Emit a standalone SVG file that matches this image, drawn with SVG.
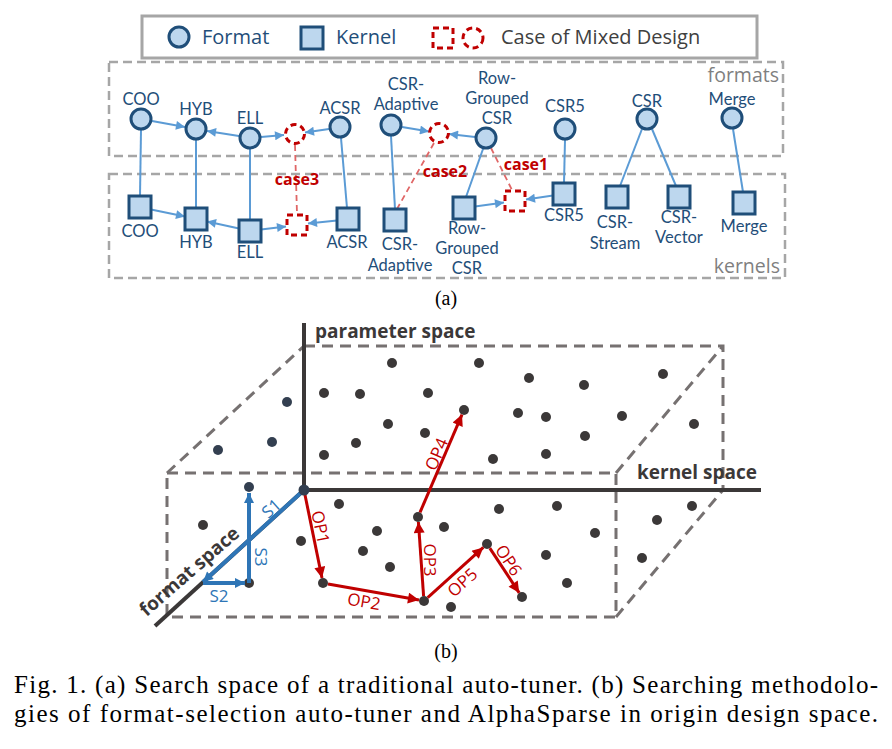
<svg xmlns="http://www.w3.org/2000/svg" width="892" height="749" viewBox="0 0 892 749">
<defs>
<marker id="ab" viewBox="0 0 10 10" refX="10" refY="5" markerWidth="11" markerHeight="9" markerUnits="userSpaceOnUse" orient="auto"><path d="M0,0 L10,5 L0,10 Z" fill="#5b9bd5"/></marker>
<marker id="ar" viewBox="0 0 10 10" refX="10" refY="5" markerWidth="13" markerHeight="11" markerUnits="userSpaceOnUse" orient="auto"><path d="M0,0 L10,5 L0,10 Z" fill="#c00000"/></marker>
<marker id="as" viewBox="0 0 10 10" refX="10" refY="5" markerWidth="12" markerHeight="10" markerUnits="userSpaceOnUse" orient="auto"><path d="M0,0 L10,5 L0,10 Z" fill="#2e75b6"/></marker>
</defs>
<style>
.fmt{fill:#bdd7ee;stroke:#1f4e79;stroke-width:3}
.mix{fill:#fff;stroke:#c00000;stroke-width:3;stroke-dasharray:6 4}
.lbl{font-family:Lato,"Open Sans",sans-serif;font-size:16.5px;fill:#1f4e79;text-anchor:middle}
.case{font-family:"Open Sans","Noto Sans",sans-serif;font-size:16px;font-weight:bold;fill:#c00000;text-anchor:middle}
.leg{font-family:"Open Sans","Noto Sans",sans-serif;font-size:20px}
.grp{font-family:"Open Sans","Noto Sans",sans-serif;font-size:19.5px;fill:#7f7f7f;text-anchor:end}
.gbox{fill:none;stroke:#a6a6a6;stroke-width:2.5;stroke-dasharray:9 5}
.bl{stroke:#5b9bd5;stroke-width:2;fill:none}
.rd{stroke:#e06666;stroke-width:1.8;stroke-dasharray:6 4;fill:none}
.ax{stroke:#3b3838;stroke-width:4;fill:none}
.db{stroke:#767171;stroke-width:3;stroke-dasharray:11 7;fill:none}
.dot{fill:#3b3838}
.nav{fill:#333f50}
.op{stroke:#c00000;stroke-width:3;fill:none}
.sa{stroke:#2e75b6;stroke-width:4;fill:none}
.opt{font-family:"Open Sans","Noto Sans",sans-serif;font-size:17px;fill:#c00000;text-anchor:middle;dominant-baseline:central}
.st{font-family:"Open Sans","Noto Sans",sans-serif;font-size:17px;fill:#2e75b6;text-anchor:middle;dominant-baseline:central}
.sp{font-family:"Open Sans","Noto Sans",sans-serif;font-size:19px;font-weight:bold;fill:#3b3838}
.cap{font-family:"Liberation Serif","Times New Roman",serif;font-size:25px;fill:#000}
.sub{font-family:"Liberation Serif","Times New Roman",serif;font-size:20px;fill:#000;text-anchor:middle}
</style>
<rect width="892" height="749" fill="#fff"/>

<!-- legend -->
<g id="legend">
<rect x="142" y="16" width="615" height="42" fill="none" stroke="#a6a6a6" stroke-width="3"/>
<circle class="fmt" cx="179" cy="37" r="10"/>
<text class="leg" x="202" y="44" fill="#1f4e79">Format</text>
<rect class="fmt" x="301" y="27" width="22" height="22"/>
<text class="leg" x="336" y="44" fill="#1f4e79">Kernel</text>
<rect class="mix" x="433" y="28" width="20" height="20"/>
<circle class="mix" cx="473" cy="38" r="10"/>
<text class="leg" x="501" y="44" fill="#404040">Case of Mixed Design</text>
</g>

<!-- group boxes -->
<g id="formats-box">
<rect class="gbox" x="109" y="62" width="674" height="94"/>
<text class="grp" x="779" y="82">formats</text>
</g>
<g id="kernels-box">
<rect class="gbox" x="109" y="174" width="676" height="104"/>
<text class="grp" x="780" y="273">kernels</text>
</g>

<!-- connectors (a) -->
<g id="connectors-a">
<line class="bl" x1="141" y1="130" x2="140" y2="196"/>
<line class="bl" x1="196" y1="140" x2="196" y2="208"/>
<line class="bl" x1="250" y1="149" x2="250" y2="220"/>
<line class="bl" x1="341" y1="138" x2="347" y2="208"/>
<line class="bl" x1="391" y1="136" x2="395" y2="209"/>
<line class="bl" x1="483" y1="149" x2="466" y2="197"/>
<line class="bl" x1="565" y1="140" x2="564" y2="183"/>
<line class="bl" x1="642" y1="129" x2="620" y2="186"/>
<line class="bl" x1="652" y1="129" x2="676" y2="186"/>
<line class="bl" x1="733" y1="129" x2="743" y2="192"/>
<line class="bl" x1="152" y1="121" x2="185" y2="127" marker-end="url(#ab)"/>
<line class="bl" x1="239" y1="136" x2="207" y2="131" marker-end="url(#ab)"/>
<line class="bl" x1="261" y1="137" x2="284" y2="135" marker-end="url(#ab)"/>
<line class="bl" x1="329" y1="129" x2="305" y2="132.5" marker-end="url(#ab)"/>
<line class="bl" x1="402" y1="127" x2="429" y2="131.5" marker-end="url(#ab)"/>
<line class="bl" x1="475" y1="137" x2="449" y2="134" marker-end="url(#ab)"/>
<line class="bl" x1="151" y1="209.5" x2="185" y2="216.5" marker-end="url(#ab)"/>
<line class="bl" x1="239" y1="228.5" x2="207" y2="221.5" marker-end="url(#ab)"/>
<line class="bl" x1="261" y1="229.5" x2="286" y2="226.5" marker-end="url(#ab)"/>
<line class="bl" x1="337" y1="220.5" x2="308" y2="223.5" marker-end="url(#ab)"/>
<line class="bl" x1="475" y1="206.5" x2="504" y2="202.5" marker-end="url(#ab)"/>
<line class="bl" x1="553" y1="195.5" x2="526" y2="199.5" marker-end="url(#ab)"/>
<line class="rd" x1="295" y1="145" x2="297" y2="214"/>
<line class="rd" x1="434" y1="143" x2="397" y2="209"/>
<line class="rd" x1="491" y1="148" x2="512" y2="190"/>
</g>

<!-- format nodes -->
<g id="f-coo"><circle class="fmt" cx="141" cy="119" r="10"/><text class="lbl" x="141" y="105">COO</text></g>
<g id="f-hyb"><circle class="fmt" cx="196" cy="129" r="10"/><text class="lbl" x="196" y="115">HYB</text></g>
<g id="f-ell"><circle class="fmt" cx="250" cy="138" r="10"/><text class="lbl" x="250" y="124">ELL</text></g>
<g id="f-mix3"><circle class="mix" cx="295" cy="134" r="9.5"/></g>
<g id="f-acsr"><circle class="fmt" cx="340" cy="127" r="10"/><text class="lbl" x="340" y="114">ACSR</text></g>
<g id="f-csradaptive"><circle class="fmt" cx="391" cy="125" r="10"/><text class="lbl" x="406" y="90">CSR-</text><text class="lbl" x="406" y="110">Adaptive</text></g>
<g id="f-mix2"><circle class="mix" cx="439" cy="133" r="9.5"/></g>
<g id="f-rgcsr"><circle class="fmt" cx="486" cy="138" r="10"/><text class="lbl" x="497" y="84">Row-</text><text class="lbl" x="497" y="104">Grouped</text><text class="lbl" x="497" y="124">CSR</text></g>
<g id="f-csr5"><circle class="fmt" cx="565" cy="129" r="10"/><text class="lbl" x="565" y="112">CSR5</text></g>
<g id="f-csr"><circle class="fmt" cx="647" cy="119" r="10"/><text class="lbl" x="647" y="107">CSR</text></g>
<g id="f-merge"><circle class="fmt" cx="732" cy="118" r="10"/><text class="lbl" x="732" y="105">Merge</text></g>

<!-- kernel nodes -->
<g id="k-coo"><rect class="fmt" x="129" y="196" width="22" height="22"/><text class="lbl" x="140" y="237">COO</text></g>
<g id="k-hyb"><rect class="fmt" x="185" y="208" width="22" height="22"/><text class="lbl" x="196" y="248">HYB</text></g>
<g id="k-ell"><rect class="fmt" x="239" y="220" width="22" height="22"/><text class="lbl" x="250" y="258">ELL</text></g>
<g id="k-mix3"><rect class="mix" x="287" y="215" width="20" height="20"/></g>
<g id="k-acsr"><rect class="fmt" x="337" y="208" width="22" height="22"/><text class="lbl" x="347" y="248">ACSR</text></g>
<g id="k-csradaptive"><rect class="fmt" x="384" y="209" width="22" height="22"/><text class="lbl" x="400" y="250">CSR-</text><text class="lbl" x="400" y="271">Adaptive</text></g>
<g id="k-rgcsr"><rect class="fmt" x="453" y="197" width="22" height="22"/><text class="lbl" x="467" y="234">Row-</text><text class="lbl" x="467" y="254">Grouped</text><text class="lbl" x="467" y="274">CSR</text></g>
<g id="k-mix1"><rect class="mix" x="505" y="191" width="20" height="20"/></g>
<g id="k-csr5"><rect class="fmt" x="553" y="183" width="22" height="22"/><text class="lbl" x="564" y="221">CSR5</text></g>
<g id="k-csrstream"><rect class="fmt" x="606" y="186" width="22" height="22"/><text class="lbl" x="615" y="228">CSR-</text><text class="lbl" x="615" y="249">Stream</text></g>
<g id="k-csrvector"><rect class="fmt" x="668" y="186" width="22" height="22"/><text class="lbl" x="679" y="223">CSR-</text><text class="lbl" x="679" y="243">Vector</text></g>
<g id="k-merge"><rect class="fmt" x="733" y="192" width="22" height="22"/><text class="lbl" x="744" y="232">Merge</text></g>

<g id="case-labels">
<text class="case" x="297" y="185">case3</text>
<text class="case" x="445" y="177">case2</text>
<text class="case" x="526" y="170">case1</text>
</g>

<text class="sub" x="446" y="305">(a)</text>

<!-- (b) design space -->
<g id="space-box">
<path class="db" d="M304,346 H723 V490"/>
<path class="db" d="M167,473 H616 V617 H167 Z"/>
<path class="db" d="M167,473 L304,346 M616,473 L723,346 M616,617 L723,490"/>
</g>
<g id="axes">
<line class="ax" x1="304" y1="323" x2="304" y2="490"/>
<line class="ax" x1="304" y1="490" x2="761" y2="490"/>
<line class="ax" x1="304" y1="490" x2="155" y2="626"/>
<text class="sp" x="315" y="338">parameter space</text>
<text class="sp" x="637" y="479">kernel space</text>
<text class="sp" transform="translate(189,571) rotate(-41)" text-anchor="middle" dominant-baseline="central">format space</text>
</g>

<g id="points">
<circle class="dot" cx="392" cy="363" r="5"/><circle class="dot" cx="324" cy="393" r="5"/><circle class="dot" cx="360" cy="394" r="5"/>
<circle class="dot" cx="428" cy="393" r="5"/><circle class="dot" cx="464" cy="410" r="5"/><circle class="dot" cx="388" cy="424" r="5"/>
<circle class="dot" cx="425" cy="433" r="5"/><circle class="dot" cx="356" cy="443" r="5"/><circle class="dot" cx="324" cy="455" r="5"/>
<circle class="dot" cx="479" cy="363" r="5"/><circle class="dot" cx="529" cy="378" r="5"/><circle class="dot" cx="584" cy="385" r="5"/>
<circle class="dot" cx="663" cy="374" r="5"/><circle class="dot" cx="518" cy="413" r="5"/><circle class="dot" cx="546" cy="417" r="5"/>
<circle class="dot" cx="622" cy="416" r="5"/><circle class="dot" cx="694" cy="424" r="5"/><circle class="dot" cx="585" cy="436" r="5"/>
<circle class="dot" cx="493" cy="459" r="5"/><circle class="dot" cx="546" cy="454" r="5"/>
<circle class="dot" cx="203" cy="525" r="5"/><circle class="dot" cx="339" cy="504" r="5"/><circle class="dot" cx="301" cy="541" r="5"/>
<circle class="dot" cx="377" cy="531" r="5"/><circle class="dot" cx="363" cy="551" r="5"/><circle class="dot" cx="390" cy="567" r="5"/>
<circle class="dot" cx="418" cy="517" r="5"/><circle class="dot" cx="444" cy="527" r="5"/><circle class="dot" cx="249" cy="583" r="5"/>
<circle class="dot" cx="323" cy="583" r="5"/><circle class="dot" cx="424" cy="601" r="5"/><circle class="dot" cx="451" cy="607" r="5"/>
<circle class="dot" cx="499" cy="509" r="5"/><circle class="dot" cx="557" cy="506" r="5"/><circle class="dot" cx="595" cy="533" r="5"/>
<circle class="dot" cx="487" cy="544" r="5"/><circle class="dot" cx="546" cy="555" r="5"/><circle class="dot" cx="567" cy="583" r="5"/>
<circle class="dot" cx="522" cy="597" r="5"/><circle class="dot" cx="657" cy="520" r="5"/><circle class="dot" cx="692" cy="506" r="5"/>
<circle class="dot" cx="642" cy="558" r="5"/>
<circle class="nav" cx="287" cy="402" r="5"/><circle class="nav" cx="272" cy="442" r="5"/><circle class="nav" cx="218" cy="450" r="5"/>
<circle class="nav" cx="249" cy="487" r="5"/>
</g>

<g id="connectors-b">
<line class="sa" x1="304" y1="490" x2="203" y2="582" marker-end="url(#as)"/>
<line class="sa" x1="203" y1="583" x2="245" y2="583" marker-end="url(#as)"/>
<line class="sa" x1="249" y1="583" x2="249" y2="493" marker-end="url(#as)"/>
<line class="op" x1="304" y1="490" x2="322" y2="578" marker-end="url(#ar)"/>
<line class="op" x1="328" y1="584" x2="419" y2="600" marker-end="url(#ar)"/>
<line class="op" x1="423.6" y1="596" x2="418.4" y2="522" marker-end="url(#ar)"/>
<line class="op" x1="420" y1="512.4" x2="462" y2="414.6" marker-end="url(#ar)"/>
<line class="op" x1="427.7" y1="597.6" x2="483.3" y2="547.4" marker-end="url(#ar)"/>
<line class="op" x1="489.8" y1="548.2" x2="519.2" y2="592.8" marker-end="url(#ar)"/>
<circle class="nav" cx="304" cy="490" r="5.5"/>
<text class="st" transform="translate(271,508) rotate(-42)">S1</text>
<text class="st" transform="translate(219,595)">S2</text>
<text class="st" transform="translate(261,557) rotate(90)">S3</text>
<text class="opt" transform="translate(321,527) rotate(78.5)">OP1</text>
<text class="opt" transform="translate(364,601) rotate(10)">OP2</text>
<text class="opt" transform="translate(430,560) rotate(90)">OP3</text>
<text class="opt" transform="translate(436,454) rotate(-66.7)">OP4</text>
<text class="opt" transform="translate(462,582) rotate(-42)">OP5</text>
<text class="opt" transform="translate(509,560) rotate(56.6)">OP6</text>
</g>

<text class="sub" x="446" y="658">(b)</text>
<text class="cap" x="14" y="693" textLength="864" lengthAdjust="spacing">Fig. 1.  (a) Search space of a traditional auto-tuner. (b) Searching methodolo-</text>
<text class="cap" x="14" y="722" textLength="864" lengthAdjust="spacing">gies of format-selection auto-tuner and AlphaSparse in origin design space.</text>
</svg>
